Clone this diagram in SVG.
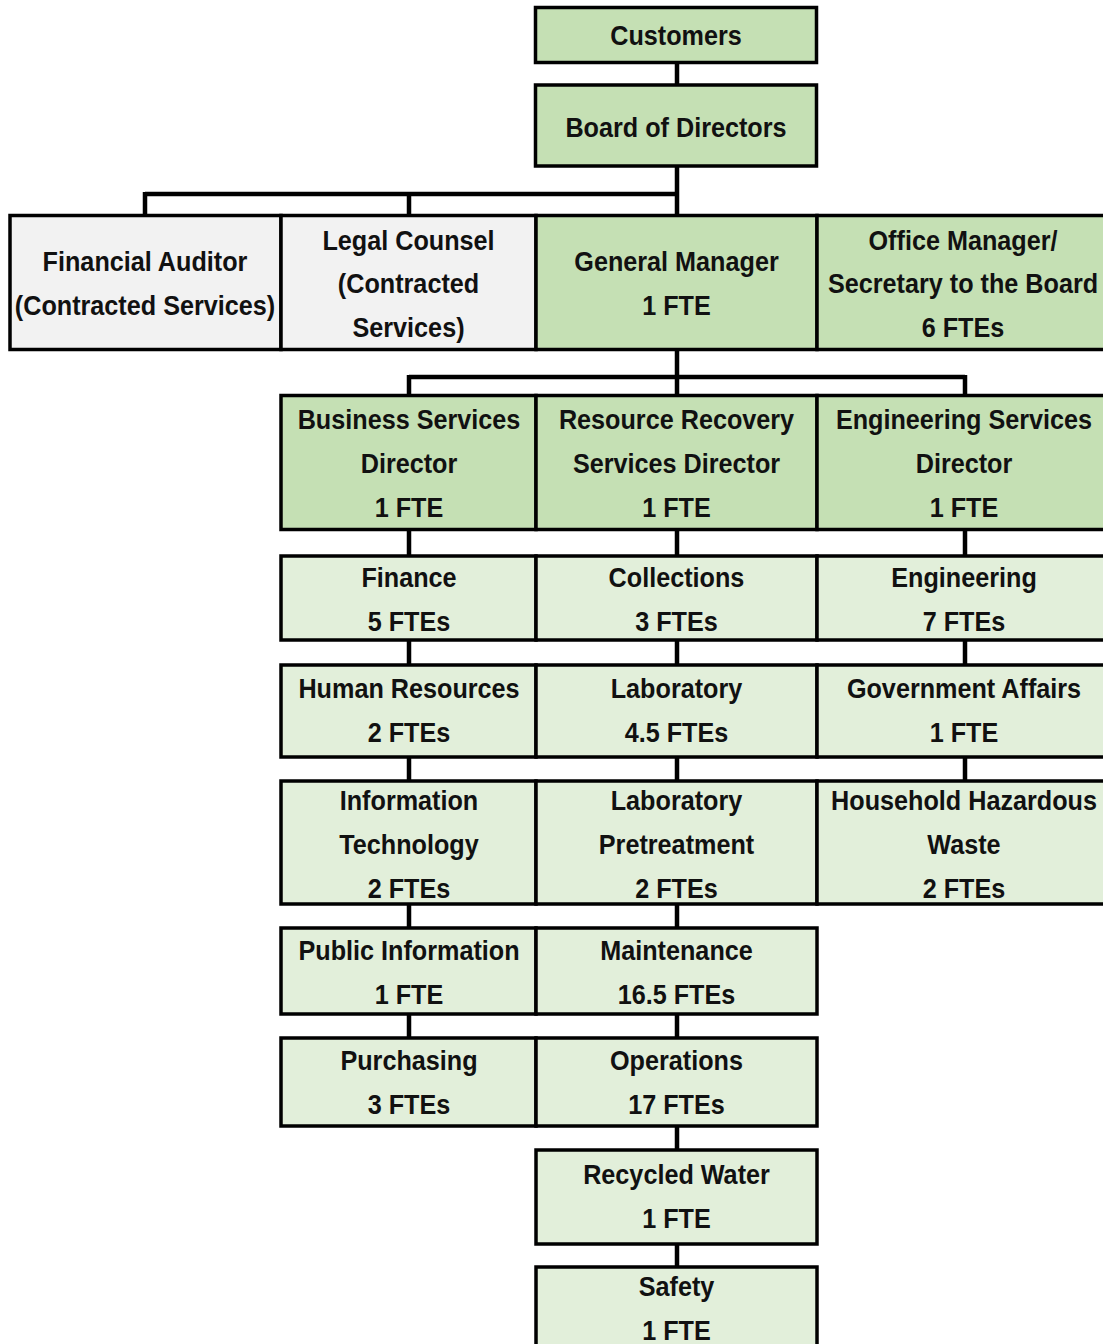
<svg xmlns="http://www.w3.org/2000/svg" width="1103" height="1344" viewBox="0 0 1103 1344">
<style>
.box{stroke:#000;stroke-width:3.5}
.dk{fill:#c5e0b4}
.lt{fill:#e2efda}
.gr{fill:#f2f2f2}
.c{stroke:#000;stroke-width:4.5;fill:none}
text{font-family:"Liberation Sans",Arial,sans-serif;font-weight:bold;font-size:28px;fill:#111;text-anchor:middle}
</style>
<rect width="1103" height="1344" fill="#fff"/>
<g id="connectors">
<path class="c" d="M677 63V84M677 167V214M145 194H677M145 192V214M409 192V214"/>
<path class="c" d="M677 351V395M409 377H965M409 375V395M965 375V395"/>
<path class="c" d="M409 530V555M677 530V555M965 530V555"/>
<path class="c" d="M409 640V664M677 640V664M965 640V664"/>
<path class="c" d="M409 757V780M677 757V780M965 757V780"/>
<path class="c" d="M409 904V927M677 904V927"/>
<path class="c" d="M409 1014V1037M677 1014V1037"/>
<path class="c" d="M677 1126V1149M677 1244V1266"/>
</g>
<g id="customers"><rect class="box dk" x="535.5" y="7.5" width="281" height="55"/><text transform="translate(676 0) scale(0.9 1)"><tspan x="0" y="45">Customers</tspan></text></g>
<g id="board"><rect class="box dk" x="535.5" y="85" width="281" height="81"/><text transform="translate(676 0) scale(0.9 1)"><tspan x="0" y="137">Board of Directors</tspan></text></g>
<g id="auditor"><rect class="box gr" x="10" y="215.5" width="271" height="134"/><text transform="translate(145 0) scale(0.9 1)"><tspan x="0" y="271">Financial Auditor</tspan><tspan x="0" y="315">(Contracted Services)</tspan></text></g>
<g id="legal"><rect class="box gr" x="281" y="215.5" width="255" height="134"/><text transform="translate(408.5 0) scale(0.9 1)"><tspan x="0" y="250">Legal Counsel</tspan><tspan x="0" y="293">(Contracted</tspan><tspan x="0" y="337">Services)</tspan></text></g>
<g id="gm"><rect class="box dk" x="536" y="215.5" width="281" height="134"/><text transform="translate(676.5 0) scale(0.9 1)"><tspan x="0" y="271">General Manager</tspan><tspan x="0" y="315">1 FTE</tspan></text></g>
<g id="office"><rect class="box dk" x="817" y="215.5" width="293" height="134"/><text transform="translate(963 0) scale(0.9 1)"><tspan x="0" y="250">Office Manager/</tspan><tspan x="0" y="293">Secretary to the Board</tspan><tspan x="0" y="337">6 FTEs</tspan></text></g>
<g id="bsd"><rect class="box dk" x="281" y="395.5" width="255" height="134"/><text transform="translate(409 0) scale(0.9 1)"><tspan x="0" y="429">Business Services</tspan><tspan x="0" y="473">Director</tspan><tspan x="0" y="517">1 FTE</tspan></text></g>
<g id="rrd"><rect class="box dk" x="536" y="395.5" width="281" height="134"/><text transform="translate(676.5 0) scale(0.9 1)"><tspan x="0" y="429">Resource Recovery</tspan><tspan x="0" y="473">Services Director</tspan><tspan x="0" y="517">1 FTE</tspan></text></g>
<g id="esd"><rect class="box dk" x="817" y="395.5" width="293" height="134"/><text transform="translate(964 0) scale(0.9 1)"><tspan x="0" y="429">Engineering Services</tspan><tspan x="0" y="473">Director</tspan><tspan x="0" y="517">1 FTE</tspan></text></g>
<g id="finance"><rect class="box lt" x="281" y="556" width="255" height="84"/><text transform="translate(409 0) scale(0.9 1)"><tspan x="0" y="587">Finance</tspan><tspan x="0" y="631">5 FTEs</tspan></text></g>
<g id="collections"><rect class="box lt" x="536" y="556" width="281" height="84"/><text transform="translate(676.5 0) scale(0.9 1)"><tspan x="0" y="587">Collections</tspan><tspan x="0" y="631">3 FTEs</tspan></text></g>
<g id="engineering"><rect class="box lt" x="817" y="556" width="293" height="84"/><text transform="translate(964 0) scale(0.9 1)"><tspan x="0" y="587">Engineering</tspan><tspan x="0" y="631">7 FTEs</tspan></text></g>
<g id="hr"><rect class="box lt" x="281" y="665" width="255" height="92"/><text transform="translate(409 0) scale(0.9 1)"><tspan x="0" y="698">Human Resources</tspan><tspan x="0" y="742">2 FTEs</tspan></text></g>
<g id="lab"><rect class="box lt" x="536" y="665" width="281" height="92"/><text transform="translate(676.5 0) scale(0.9 1)"><tspan x="0" y="698">Laboratory</tspan><tspan x="0" y="742">4.5 FTEs</tspan></text></g>
<g id="govt"><rect class="box lt" x="817" y="665" width="293" height="92"/><text transform="translate(964 0) scale(0.9 1)"><tspan x="0" y="698">Government Affairs</tspan><tspan x="0" y="742">1 FTE</tspan></text></g>
<g id="it"><rect class="box lt" x="281" y="781" width="255" height="123"/><text transform="translate(409 0) scale(0.9 1)"><tspan x="0" y="810">Information</tspan><tspan x="0" y="854">Technology</tspan><tspan x="0" y="898">2 FTEs</tspan></text></g>
<g id="labpre"><rect class="box lt" x="536" y="781" width="281" height="123"/><text transform="translate(676.5 0) scale(0.9 1)"><tspan x="0" y="810">Laboratory</tspan><tspan x="0" y="854">Pretreatment</tspan><tspan x="0" y="898">2 FTEs</tspan></text></g>
<g id="hhw"><rect class="box lt" x="817" y="781" width="293" height="123"/><text transform="translate(964 0) scale(0.9 1)"><tspan x="0" y="810">Household Hazardous</tspan><tspan x="0" y="854">Waste</tspan><tspan x="0" y="898">2 FTEs</tspan></text></g>
<g id="pubinfo"><rect class="box lt" x="281" y="928" width="255" height="86"/><text transform="translate(409 0) scale(0.9 1)"><tspan x="0" y="960">Public Information</tspan><tspan x="0" y="1004">1 FTE</tspan></text></g>
<g id="maint"><rect class="box lt" x="536" y="928" width="281" height="86"/><text transform="translate(676.5 0) scale(0.9 1)"><tspan x="0" y="960">Maintenance</tspan><tspan x="0" y="1004">16.5 FTEs</tspan></text></g>
<g id="purch"><rect class="box lt" x="281" y="1038" width="255" height="88"/><text transform="translate(409 0) scale(0.9 1)"><tspan x="0" y="1070">Purchasing</tspan><tspan x="0" y="1114">3 FTEs</tspan></text></g>
<g id="ops"><rect class="box lt" x="536" y="1038" width="281" height="88"/><text transform="translate(676.5 0) scale(0.9 1)"><tspan x="0" y="1070">Operations</tspan><tspan x="0" y="1114">17 FTEs</tspan></text></g>
<g id="recycled"><rect class="box lt" x="536" y="1150" width="281" height="94"/><text transform="translate(676.5 0) scale(0.9 1)"><tspan x="0" y="1184">Recycled Water</tspan><tspan x="0" y="1228">1 FTE</tspan></text></g>
<g id="safety"><rect class="box lt" x="536" y="1267" width="281" height="90"/><text transform="translate(676.5 0) scale(0.9 1)"><tspan x="0" y="1296">Safety</tspan><tspan x="0" y="1340">1 FTE</tspan></text></g>
</svg>
